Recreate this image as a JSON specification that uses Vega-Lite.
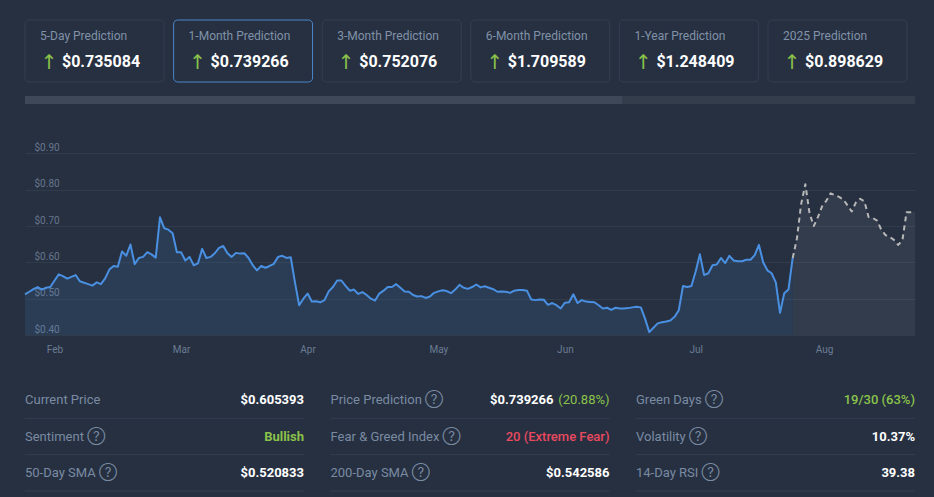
{
  "$schema": "https://vega.github.io/schema/vega-lite/v6.json",
  "background": "#263041",
  "padding": {"left": 24, "top": 19, "right": 19, "bottom": 7},
  "spacing": 13,
  "config": {"view": {"stroke": null}, "font": "Roboto", "text": {"font": "Roboto"}},
  "datasets": {
    "cards": [
      {"card": "5-Day Prediction", "value": "$0.735084", "selected": false},
      {"card": "1-Month Prediction", "value": "$0.739266", "selected": true},
      {"card": "3-Month Prediction", "value": "$0.752076", "selected": false},
      {"card": "6-Month Prediction", "value": "$1.709589", "selected": false},
      {"card": "1-Year Prediction", "value": "$1.248409", "selected": false},
      {"card": "2025 Prediction", "value": "$0.898629", "selected": false}
    ],
    "scroll": [
      {"part": "track", "start": 0, "end": 100},
      {"part": "thumb", "start": 0, "end": 67.1}
    ],
    "history": [
      {"date": "2024-02-08", "price": 0.512}, {"date": "2024-02-09", "price": 0.519}, {"date": "2024-02-10", "price": 0.526}, {"date": "2024-02-11", "price": 0.532},
      {"date": "2024-02-12", "price": 0.525}, {"date": "2024-02-13", "price": 0.530}, {"date": "2024-02-14", "price": 0.532}, {"date": "2024-02-15", "price": 0.550},
      {"date": "2024-02-16", "price": 0.567}, {"date": "2024-02-17", "price": 0.562}, {"date": "2024-02-18", "price": 0.555}, {"date": "2024-02-19", "price": 0.560},
      {"date": "2024-02-20", "price": 0.565}, {"date": "2024-02-21", "price": 0.548}, {"date": "2024-02-22", "price": 0.544}, {"date": "2024-02-23", "price": 0.540},
      {"date": "2024-02-24", "price": 0.536}, {"date": "2024-02-25", "price": 0.545}, {"date": "2024-02-26", "price": 0.540}, {"date": "2024-02-27", "price": 0.556},
      {"date": "2024-02-28", "price": 0.580}, {"date": "2024-02-29", "price": 0.590},
      {"date": "2024-03-01", "price": 0.588}, {"date": "2024-03-02", "price": 0.630}, {"date": "2024-03-03", "price": 0.618}, {"date": "2024-03-04", "price": 0.649},
      {"date": "2024-03-05", "price": 0.595}, {"date": "2024-03-06", "price": 0.612}, {"date": "2024-03-07", "price": 0.615}, {"date": "2024-03-08", "price": 0.628},
      {"date": "2024-03-09", "price": 0.622}, {"date": "2024-03-10", "price": 0.613}, {"date": "2024-03-11", "price": 0.724}, {"date": "2024-03-12", "price": 0.694},
      {"date": "2024-03-13", "price": 0.690}, {"date": "2024-03-14", "price": 0.680}, {"date": "2024-03-15", "price": 0.628}, {"date": "2024-03-16", "price": 0.628},
      {"date": "2024-03-17", "price": 0.605}, {"date": "2024-03-18", "price": 0.615}, {"date": "2024-03-19", "price": 0.592}, {"date": "2024-03-20", "price": 0.597},
      {"date": "2024-03-21", "price": 0.637}, {"date": "2024-03-22", "price": 0.612}, {"date": "2024-03-23", "price": 0.615}, {"date": "2024-03-24", "price": 0.625},
      {"date": "2024-03-25", "price": 0.640}, {"date": "2024-03-26", "price": 0.645}, {"date": "2024-03-27", "price": 0.625}, {"date": "2024-03-28", "price": 0.615},
      {"date": "2024-03-29", "price": 0.626}, {"date": "2024-03-30", "price": 0.624}, {"date": "2024-03-31", "price": 0.625},
      {"date": "2024-04-01", "price": 0.612}, {"date": "2024-04-02", "price": 0.592}, {"date": "2024-04-03", "price": 0.578}, {"date": "2024-04-04", "price": 0.590},
      {"date": "2024-04-05", "price": 0.585}, {"date": "2024-04-06", "price": 0.590}, {"date": "2024-04-07", "price": 0.596}, {"date": "2024-04-08", "price": 0.615},
      {"date": "2024-04-09", "price": 0.618}, {"date": "2024-04-10", "price": 0.612}, {"date": "2024-04-11", "price": 0.614}, {"date": "2024-04-12", "price": 0.545},
      {"date": "2024-04-13", "price": 0.482}, {"date": "2024-04-14", "price": 0.500}, {"date": "2024-04-15", "price": 0.514}, {"date": "2024-04-16", "price": 0.492},
      {"date": "2024-04-17", "price": 0.493}, {"date": "2024-04-18", "price": 0.490}, {"date": "2024-04-19", "price": 0.496}, {"date": "2024-04-20", "price": 0.520},
      {"date": "2024-04-21", "price": 0.532}, {"date": "2024-04-22", "price": 0.550}, {"date": "2024-04-23", "price": 0.550}, {"date": "2024-04-24", "price": 0.535},
      {"date": "2024-04-25", "price": 0.522}, {"date": "2024-04-26", "price": 0.525}, {"date": "2024-04-27", "price": 0.513}, {"date": "2024-04-28", "price": 0.518},
      {"date": "2024-04-29", "price": 0.510}, {"date": "2024-04-30", "price": 0.500},
      {"date": "2024-05-01", "price": 0.495}, {"date": "2024-05-02", "price": 0.514}, {"date": "2024-05-03", "price": 0.522}, {"date": "2024-05-04", "price": 0.532},
      {"date": "2024-05-05", "price": 0.532}, {"date": "2024-05-06", "price": 0.540}, {"date": "2024-05-07", "price": 0.530}, {"date": "2024-05-08", "price": 0.520},
      {"date": "2024-05-09", "price": 0.519}, {"date": "2024-05-10", "price": 0.510}, {"date": "2024-05-11", "price": 0.506}, {"date": "2024-05-12", "price": 0.507},
      {"date": "2024-05-13", "price": 0.502}, {"date": "2024-05-14", "price": 0.506}, {"date": "2024-05-15", "price": 0.516}, {"date": "2024-05-16", "price": 0.520},
      {"date": "2024-05-17", "price": 0.523}, {"date": "2024-05-18", "price": 0.521}, {"date": "2024-05-19", "price": 0.515}, {"date": "2024-05-20", "price": 0.525},
      {"date": "2024-05-21", "price": 0.538}, {"date": "2024-05-22", "price": 0.530}, {"date": "2024-05-23", "price": 0.527}, {"date": "2024-05-24", "price": 0.532},
      {"date": "2024-05-25", "price": 0.539}, {"date": "2024-05-26", "price": 0.531}, {"date": "2024-05-27", "price": 0.534}, {"date": "2024-05-28", "price": 0.530},
      {"date": "2024-05-29", "price": 0.526}, {"date": "2024-05-30", "price": 0.519}, {"date": "2024-05-31", "price": 0.520},
      {"date": "2024-06-01", "price": 0.519}, {"date": "2024-06-02", "price": 0.516}, {"date": "2024-06-03", "price": 0.522}, {"date": "2024-06-04", "price": 0.524},
      {"date": "2024-06-05", "price": 0.524}, {"date": "2024-06-06", "price": 0.522}, {"date": "2024-06-07", "price": 0.498}, {"date": "2024-06-08", "price": 0.496},
      {"date": "2024-06-09", "price": 0.498}, {"date": "2024-06-10", "price": 0.497}, {"date": "2024-06-11", "price": 0.483}, {"date": "2024-06-12", "price": 0.488},
      {"date": "2024-06-13", "price": 0.482}, {"date": "2024-06-14", "price": 0.473}, {"date": "2024-06-15", "price": 0.489}, {"date": "2024-06-16", "price": 0.490},
      {"date": "2024-06-17", "price": 0.512}, {"date": "2024-06-18", "price": 0.488}, {"date": "2024-06-19", "price": 0.496}, {"date": "2024-06-20", "price": 0.492},
      {"date": "2024-06-21", "price": 0.491}, {"date": "2024-06-22", "price": 0.490}, {"date": "2024-06-23", "price": 0.482}, {"date": "2024-06-24", "price": 0.473},
      {"date": "2024-06-25", "price": 0.475}, {"date": "2024-06-26", "price": 0.469}, {"date": "2024-06-27", "price": 0.475}, {"date": "2024-06-28", "price": 0.473},
      {"date": "2024-06-29", "price": 0.473}, {"date": "2024-06-30", "price": 0.474},
      {"date": "2024-07-01", "price": 0.476}, {"date": "2024-07-02", "price": 0.478}, {"date": "2024-07-03", "price": 0.476}, {"date": "2024-07-04", "price": 0.445},
      {"date": "2024-07-05", "price": 0.408}, {"date": "2024-07-06", "price": 0.420}, {"date": "2024-07-07", "price": 0.432}, {"date": "2024-07-08", "price": 0.435},
      {"date": "2024-07-09", "price": 0.437}, {"date": "2024-07-10", "price": 0.440}, {"date": "2024-07-11", "price": 0.450}, {"date": "2024-07-12", "price": 0.468},
      {"date": "2024-07-13", "price": 0.535}, {"date": "2024-07-14", "price": 0.532}, {"date": "2024-07-15", "price": 0.535}, {"date": "2024-07-16", "price": 0.575},
      {"date": "2024-07-17", "price": 0.622}, {"date": "2024-07-18", "price": 0.565}, {"date": "2024-07-19", "price": 0.570}, {"date": "2024-07-20", "price": 0.592},
      {"date": "2024-07-21", "price": 0.594}, {"date": "2024-07-22", "price": 0.612}, {"date": "2024-07-23", "price": 0.598}, {"date": "2024-07-24", "price": 0.618},
      {"date": "2024-07-25", "price": 0.605}, {"date": "2024-07-26", "price": 0.603}, {"date": "2024-07-27", "price": 0.603}, {"date": "2024-07-28", "price": 0.607},
      {"date": "2024-07-29", "price": 0.607}, {"date": "2024-07-30", "price": 0.620}, {"date": "2024-07-31", "price": 0.648},
      {"date": "2024-08-01", "price": 0.600}, {"date": "2024-08-02", "price": 0.578}, {"date": "2024-08-03", "price": 0.570}, {"date": "2024-08-04", "price": 0.545},
      {"date": "2024-08-05", "price": 0.461}, {"date": "2024-08-06", "price": 0.515}, {"date": "2024-08-07", "price": 0.525}, {"date": "2024-08-08", "price": 0.612}
    ],
    "forecast": [
      {"date": "2024-08-08", "price": 0.612}, {"date": "2024-08-09", "price": 0.665}, {"date": "2024-08-10", "price": 0.760}, {"date": "2024-08-11", "price": 0.815},
      {"date": "2024-08-12", "price": 0.735}, {"date": "2024-08-13", "price": 0.700}, {"date": "2024-08-14", "price": 0.725}, {"date": "2024-08-15", "price": 0.755},
      {"date": "2024-08-16", "price": 0.770}, {"date": "2024-08-17", "price": 0.790}, {"date": "2024-08-18", "price": 0.785}, {"date": "2024-08-19", "price": 0.780},
      {"date": "2024-08-20", "price": 0.773}, {"date": "2024-08-21", "price": 0.757}, {"date": "2024-08-22", "price": 0.740}, {"date": "2024-08-23", "price": 0.765},
      {"date": "2024-08-24", "price": 0.775}, {"date": "2024-08-25", "price": 0.768}, {"date": "2024-08-26", "price": 0.725}, {"date": "2024-08-27", "price": 0.722},
      {"date": "2024-08-28", "price": 0.715}, {"date": "2024-08-29", "price": 0.690}, {"date": "2024-08-30", "price": 0.675}, {"date": "2024-08-31", "price": 0.670},
      {"date": "2024-09-01", "price": 0.662}, {"date": "2024-09-02", "price": 0.648}, {"date": "2024-09-03", "price": 0.660}, {"date": "2024-09-04", "price": 0.738},
      {"date": "2024-09-05", "price": 0.738}, {"date": "2024-09-06", "price": 0.739}
    ],
    "stats": [
      {"col": 1, "row": 1, "label": "Current Price", "help": false, "value": "$0.605393", "tone": "neutral"},
      {"col": 1, "row": 2, "label": "Sentiment", "help": true, "value": "Bullish", "tone": "positive"},
      {"col": 1, "row": 3, "label": "50-Day SMA", "help": true, "value": "$0.520833", "tone": "neutral"},
      {"col": 2, "row": 1, "label": "Price Prediction", "help": true, "value": "$0.739266", "change": "(20.88%)", "tone": "neutral"},
      {"col": 2, "row": 2, "label": "Fear & Greed Index", "help": true, "value": "20 (Extreme Fear)", "tone": "negative"},
      {"col": 2, "row": 3, "label": "200-Day SMA", "help": true, "value": "$0.542586", "tone": "neutral"},
      {"col": 3, "row": 1, "label": "Green Days", "help": true, "value": "19/30 (63%)", "tone": "positive"},
      {"col": 3, "row": 2, "label": "Volatility", "help": true, "value": "10.37%", "tone": "neutral"},
      {"col": 3, "row": 3, "label": "14-Day RSI", "help": true, "value": "39.38", "tone": "neutral"}
    ]
  },
  "vconcat": [
    {
      "width": 882,
      "height": 62,
      "data": {"name": "cards"},
      "encoding": {
        "x": {"field": "card", "type": "nominal", "sort": null, "axis": null, "scale": {"paddingInner": 0.065, "paddingOuter": 0}}
      },
      "layer": [
        {
          "mark": {"type": "rect", "cornerRadius": 4, "strokeWidth": 1, "fill": "#263041"},
          "encoding": {
            "y": {"datum": 0, "type": "quantitative", "scale": {"domain": [0, 1]}, "axis": null},
            "y2": {"datum": 1},
            "stroke": {"condition": {"test": "datum.selected", "value": "#4a87c9"}, "value": "#343f50"}
          }
        },
        {
          "mark": {"type": "text", "align": "left", "baseline": "alphabetic", "dx": 15, "dy": -11, "fontSize": 12, "color": "#8192a8"},
          "encoding": {"x": {"field": "card", "type": "nominal", "sort": null, "bandPosition": 0}, "text": {"field": "card"}}
        },
        {
          "mark": {"type": "text", "align": "center", "baseline": "middle", "dx": 24, "dy": 12, "fontSize": 20, "font": "DejaVu Sans", "color": "#8bc34a"},
          "encoding": {"x": {"field": "card", "type": "nominal", "sort": null, "bandPosition": 0}, "text": {"value": "↑"}}
        },
        {
          "mark": {"type": "text", "align": "left", "baseline": "alphabetic", "dx": 37, "dy": 16, "fontSize": 16, "fontWeight": "bold", "color": "#ffffff"},
          "encoding": {"x": {"field": "card", "type": "nominal", "sort": null, "bandPosition": 0}, "text": {"field": "value"}}
        }
      ]
    },
    {
      "width": 890,
      "height": 8,
      "data": {"name": "scroll"},
      "mark": {"type": "bar"},
      "encoding": {
        "x": {"field": "start", "type": "quantitative", "scale": {"domain": [0, 100], "nice": false}, "axis": null},
        "x2": {"field": "end"},
        "y": {"datum": 0, "type": "quantitative", "scale": {"domain": [0, 1]}, "axis": null},
        "y2": {"datum": 1},
        "color": {"field": "part", "type": "nominal", "scale": {"domain": ["track", "thumb"], "range": ["#333d4c", "#3f4859"]}, "legend": null}
      }
    },
    {
      "width": 890,
      "height": 218,
      "encoding": {
        "x": {
          "field": "date", "type": "temporal",
          "scale": {"type": "utc", "domain": [{"year": 2024, "month": 2, "date": 8, "utc": true}, {"year": 2024, "month": 9, "date": 6, "utc": true}]},
          "axis": {
            "values": [
              {"year": 2024, "month": 2, "date": 15, "utc": true},
              {"year": 2024, "month": 3, "date": 16, "utc": true},
              {"year": 2024, "month": 4, "date": 15, "utc": true},
              {"year": 2024, "month": 5, "date": 16, "utc": true},
              {"year": 2024, "month": 6, "date": 15, "utc": true},
              {"year": 2024, "month": 7, "date": 16, "utc": true},
              {"year": 2024, "month": 8, "date": 15, "hours": 10, "utc": true}
            ],
            "labelExpr": "utcFormat(datum.value, '%b')", "title": null, "grid": false, "ticks": false, "domain": false,
            "labelFlush": false, "labelPadding": 9, "labelFontSize": 10, "labelColor": "#6b7c93", "labelFont": "Roboto",
            "minExtent": 34, "maxExtent": 34
          }
        },
        "y": {
          "field": "price", "type": "quantitative",
          "scale": {"domain": [0.4, 1.0], "nice": false, "zero": false},
          "axis": {
            "values": [0.4, 0.5, 0.6, 0.7, 0.8, 0.9], "format": "$.2f", "title": null,
            "labelAlign": "left", "labelBaseline": "alphabetic", "labelOffset": -3, "labelPadding": 0, "offset": -9,
            "ticks": false, "domain": false, "grid": true, "gridColor": "#303b4b", "gridWidth": 1,
            "labelColor": "#66768c", "labelFontSize": 10, "labelFont": "Roboto", "labelFlush": false,
            "minExtent": 0, "maxExtent": 0
          }
        }
      },
      "layer": [
        {"data": {"name": "history"}, "mark": {"type": "area", "color": "#4a90e2", "opacity": 0.13}, "encoding": {"y2": {"datum": 0.4}}},
        {"data": {"name": "forecast"}, "mark": {"type": "area", "color": "#a0a6ae", "opacity": 0.11}, "encoding": {"y2": {"datum": 0.4}}},
        {"data": {"name": "history"}, "mark": {"type": "line", "color": "#4a90e2", "strokeWidth": 2, "strokeJoin": "round"}},
        {"data": {"name": "forecast"}, "mark": {"type": "line", "color": "#b8b8b8", "strokeWidth": 2, "strokeDash": [5, 4], "strokeJoin": "round"}}
      ]
    },
    {
      "data": {"name": "stats"},
      "transform": [{"calculate": "datum.help ? datum.label + ' ?\u20dd' : datum.label", "as": "display"}],
      "facet": {"column": {"field": "col", "type": "ordinal", "header": null}},
      "spacing": 24.5,
      "spec": {
        "width": 279,
        "height": 109,
        "encoding": {
          "y": {"field": "row", "type": "ordinal", "axis": null, "scale": {"paddingInner": 0, "paddingOuter": 0}}
        },
        "layer": [
          {
            "mark": {"type": "rule", "color": "#333e4f", "strokeWidth": 1},
            "encoding": {"y": {"field": "row", "type": "ordinal", "bandPosition": 1, "axis": null}}
          },
          {
            "mark": {"type": "text", "align": "left", "baseline": "middle", "fontSize": 13, "color": "#7a8ba1", "font": "Roboto, Noto Sans, Inter, Open Sans, Lato, Noto Sans CJK JP, DejaVu Sans"},
            "encoding": {
              "x": {"datum": 0, "type": "quantitative", "scale": {"domain": [0, 1]}, "axis": null},
              "text": {"field": "display"}
            }
          },
          {
            "transform": [{"filter": "!datum.change && datum.label != 'Fear & Greed Index' && datum.label != 'Green Days'"}],
            "mark": {"type": "text", "align": "right", "baseline": "middle", "fontSize": 13, "fontWeight": "bold"},
            "encoding": {
              "x": {"datum": 1, "type": "quantitative"},
              "text": {"field": "value"},
              "color": {"condition": [{"test": "datum.tone == 'positive'", "value": "#8bc34a"}, {"test": "datum.tone == 'negative'", "value": "#e9495f"}], "value": "#ffffff"}
            }
          },
          {
            "transform": [{"filter": "datum.label == 'Fear & Greed Index' || datum.label == 'Green Days'"}],
            "mark": {"type": "text", "align": "right", "baseline": "middle", "fontSize": 13, "fontWeight": 500},
            "encoding": {
              "x": {"datum": 1, "type": "quantitative"},
              "text": {"field": "value"},
              "color": {"condition": [{"test": "datum.tone == 'positive'", "value": "#8bc34a"}, {"test": "datum.tone == 'negative'", "value": "#e9495f"}], "value": "#ffffff"}
            }
          },
          {
            "transform": [{"filter": "datum.change"}],
            "mark": {"type": "text", "align": "right", "baseline": "middle", "fontSize": 13, "fontWeight": "bold", "dx": -56, "color": "#ffffff"},
            "encoding": {
              "x": {"datum": 1, "type": "quantitative"},
              "text": {"field": "value"}
            }
          },
          {
            "transform": [{"filter": "datum.change"}],
            "mark": {"type": "text", "align": "right", "baseline": "middle", "fontSize": 13, "color": "#8bc34a"},
            "encoding": {
              "x": {"datum": 1, "type": "quantitative"},
              "text": {"field": "change"}
            }
          }
        ]
      }
    }
  ]
}
